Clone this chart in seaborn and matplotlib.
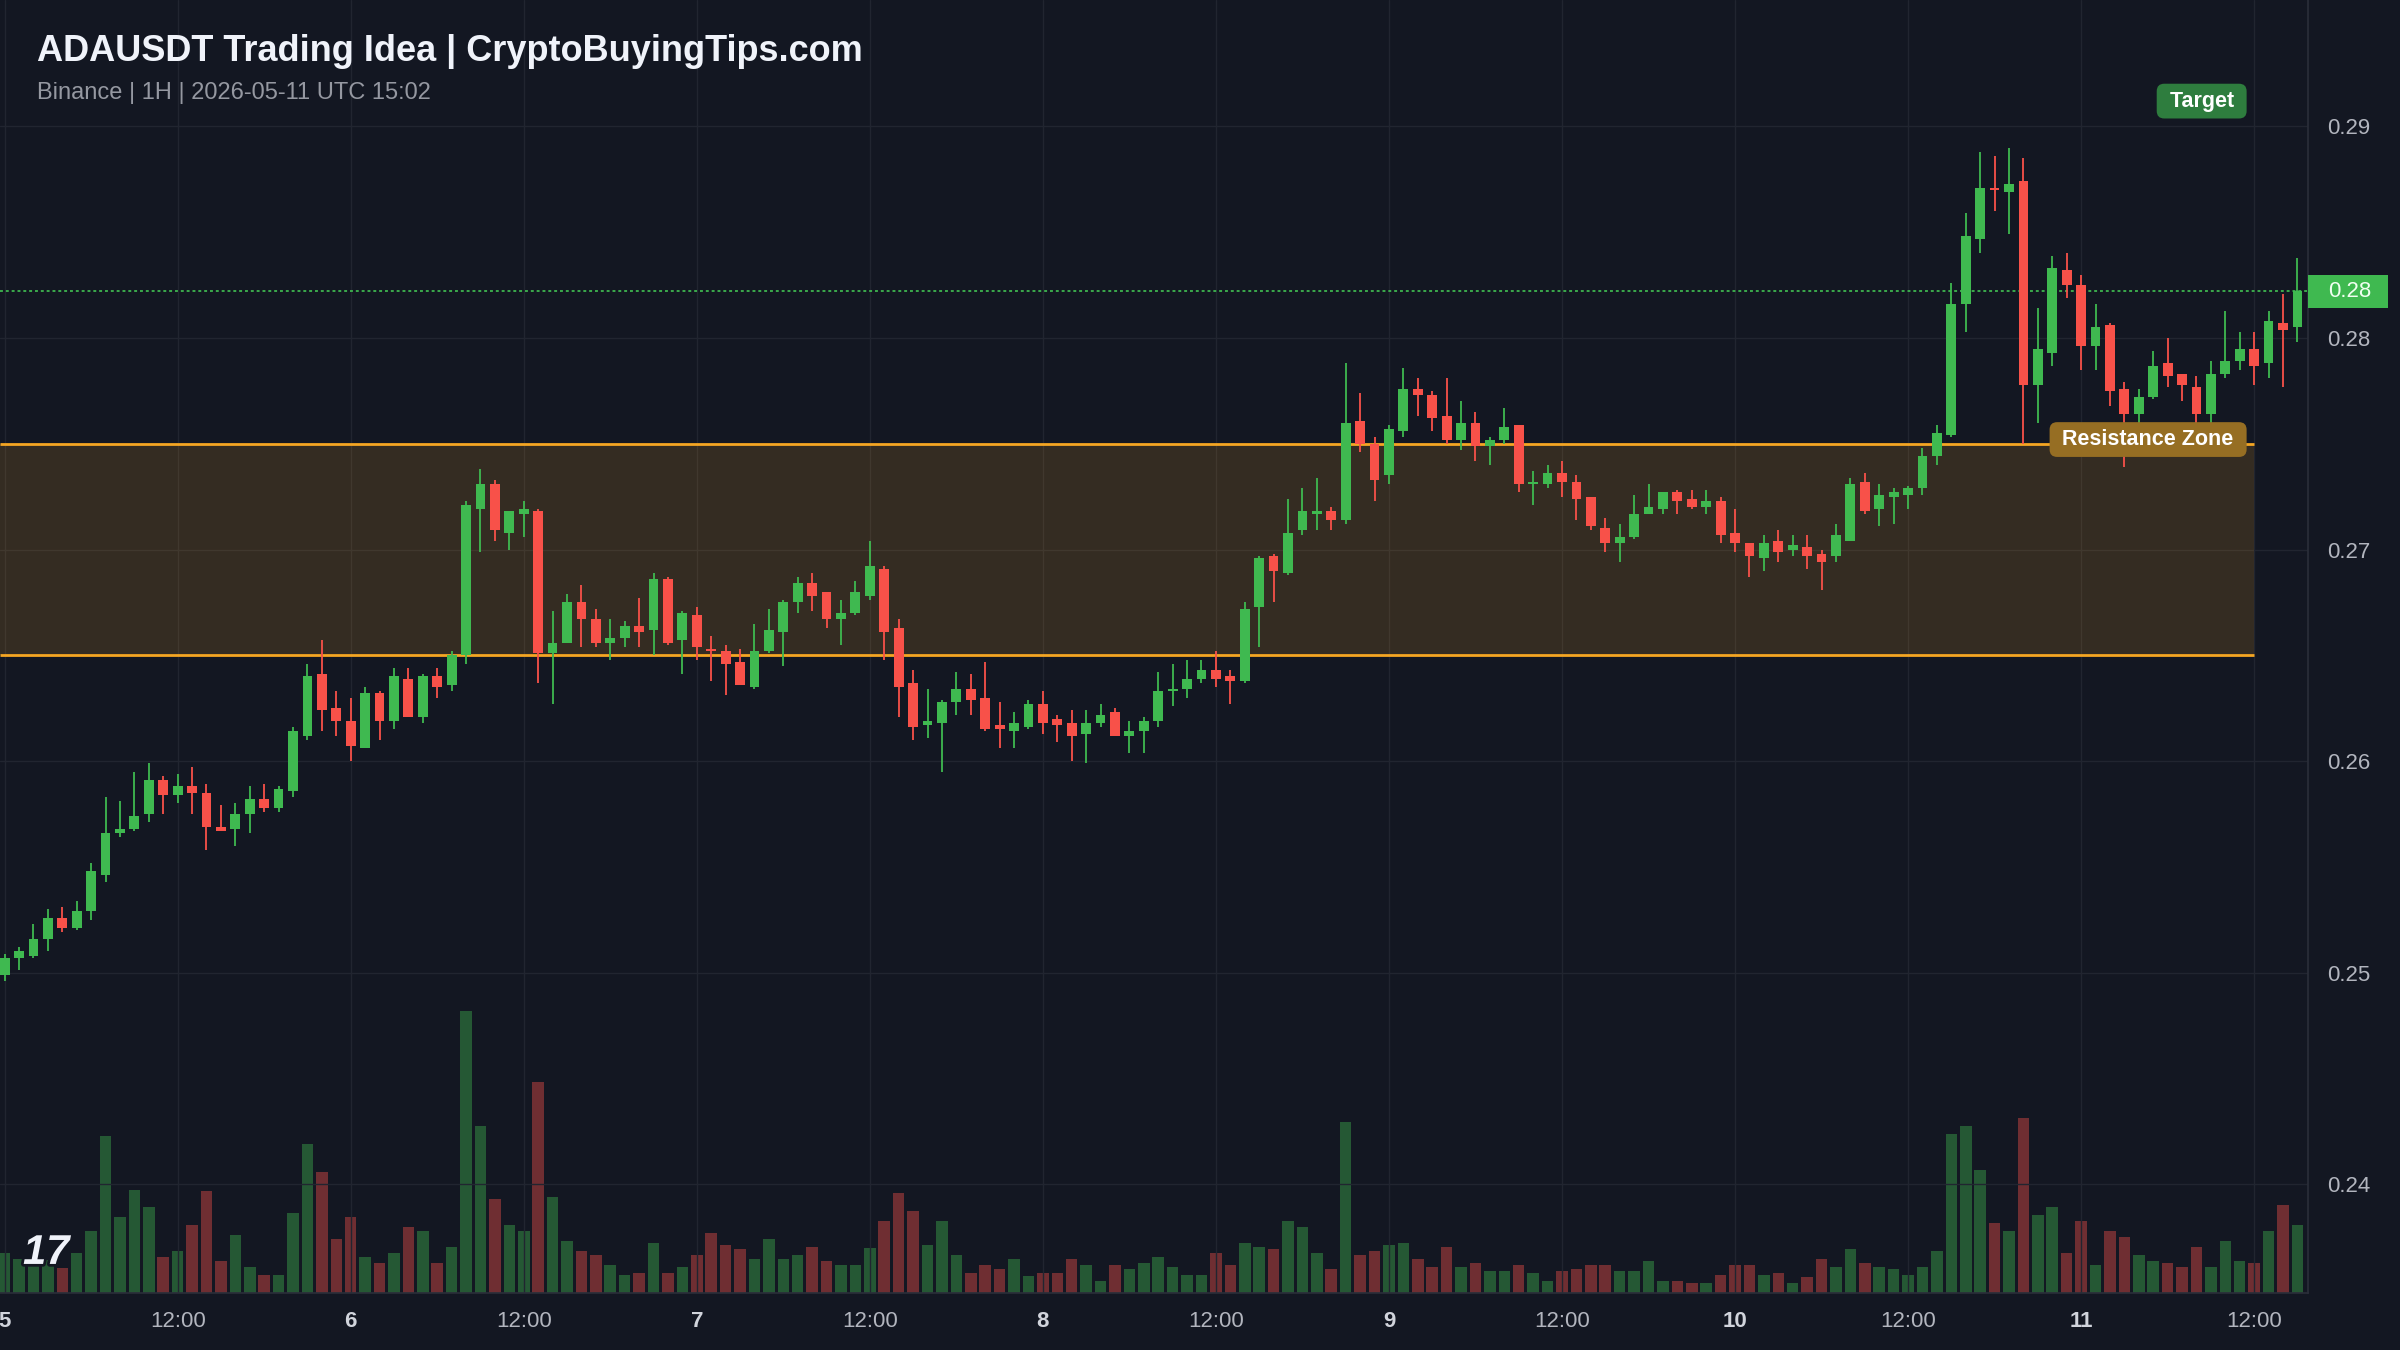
import numpy as np
import pandas as pd
import matplotlib as mpl
mpl.use("Agg")
import matplotlib.pyplot as plt
import matplotlib.patheffects as pe
from matplotlib.patches import FancyBboxPatch
from matplotlib.transforms import blended_transform_factory
import seaborn as sns

# hourly candles, 5th 00:00 -> 11th 15:00
opens = [
    .2499, .2507, .2508, .2516, .2526, .2521, .2529, .2546, .2566, .2568,
    .2575, .2591, .2584, .2588, .2585, .2569, .2568, .2575, .2582, .2578,
    .2586, .2612, .2641, .2625, .2619, .2606, .2632, .2619, .2639, .2621,
    .2640, .2636, .2650, .2719, .2731, .2708, .2717, .2718, .2651, .2656,
    .2675, .2667, .2656, .2658, .2664, .2662, .2686, .2657, .2669, .2653,
    .2652, .2647, .2635, .2652, .2661, .2675, .2684, .2680, .2667, .2670,
    .2678, .2691, .2663, .2637, .2617, .2618, .2628, .2634, .2630, .2617,
    .2614, .2616, .2627, .2620, .2618, .2613, .2618, .2623, .2612, .2614,
    .2619, .2633, .2634, .2639, .2643, .2640, .2638, .2673, .2697, .2689,
    .2709, .2717, .2718, .2714, .2761, .2750, .2735, .2756, .2776, .2773,
    .2763, .2752, .2760, .2749, .2752, .2759, .2731, .2731, .2736, .2732,
    .2725, .2710, .2703, .2706, .2717, .2719, .2727, .2724, .2720, .2723,
    .2708, .2703, .2696, .2704, .2700, .2701, .2698, .2697, .2704, .2732,
    .2719, .2725, .2726, .2729, .2744, .2754, .2816, .2847, .2871, .2869,
    .2874, .2778, .2793, .2832, .2825, .2796, .2806, .2776, .2764, .2772,
    .2788, .2783, .2777, .2764, .2783, .2789, .2795, .2788, .2807, .2805,
]
highs = [
    .2509, .2512, .2523, .2530, .2531, .2534, .2552, .2583, .2581, .2595,
    .2599, .2593, .2594, .2597, .2589, .2579, .2580, .2588, .2589, .2588,
    .2616, .2646, .2657, .2633, .2630, .2635, .2633, .2644, .2644, .2641,
    .2644, .2652, .2723, .2738, .2733, .2718, .2723, .2719, .2671, .2679,
    .2683, .2672, .2667, .2666, .2677, .2689, .2687, .2671, .2673, .2659,
    .2655, .2653, .2665, .2672, .2676, .2687, .2689, .2680, .2676, .2685,
    .2704, .2692, .2667, .2643, .2634, .2629, .2642, .2641, .2647, .2628,
    .2623, .2629, .2633, .2622, .2624, .2624, .2627, .2625, .2619, .2621,
    .2642, .2646, .2648, .2648, .2652, .2643, .2675, .2697, .2698, .2724,
    .2729, .2734, .2720, .2788, .2774, .2753, .2759, .2786, .2781, .2775,
    .2781, .2770, .2765, .2753, .2767, .2759, .2737, .2740, .2742, .2735,
    .2725, .2715, .2712, .2726, .2731, .2727, .2728, .2728, .2728, .2725,
    .2719, .2703, .2707, .2709, .2707, .2707, .2700, .2712, .2734, .2736,
    .2731, .2729, .2730, .2748, .2759, .2826, .2859, .2888, .2886, .2890,
    .2885, .2814, .2839, .2840, .2830, .2816, .2807, .2779, .2776, .2794,
    .2800, .2783, .2782, .2789, .2813, .2803, .2803, .2813, .2821, .2838,
]
lows = [
    .2496, .2501, .2507, .2510, .2519, .2520, .2525, .2543, .2564, .2567,
    .2571, .2575, .2580, .2575, .2558, .2567, .2560, .2566, .2576, .2576,
    .2583, .2610, .2614, .2612, .2600, .2606, .2610, .2615, .2621, .2618,
    .2630, .2633, .2646, .2699, .2704, .2700, .2706, .2637, .2627, .2656,
    .2654, .2654, .2648, .2654, .2654, .2650, .2655, .2641, .2648, .2638,
    .2631, .2636, .2634, .2651, .2645, .2670, .2671, .2663, .2655, .2669,
    .2676, .2648, .2621, .2610, .2611, .2595, .2622, .2622, .2614, .2606,
    .2606, .2615, .2613, .2609, .2600, .2599, .2616, .2612, .2604, .2604,
    .2616, .2626, .2630, .2637, .2635, .2627, .2637, .2654, .2675, .2688,
    .2707, .2709, .2709, .2712, .2746, .2723, .2731, .2753, .2763, .2756,
    .2750, .2747, .2742, .2740, .2750, .2727, .2721, .2729, .2725, .2714,
    .2709, .2699, .2694, .2705, .2717, .2717, .2717, .2719, .2717, .2703,
    .2699, .2687, .2690, .2694, .2697, .2691, .2681, .2694, .2704, .2717,
    .2711, .2712, .2719, .2726, .2740, .2753, .2803, .2840, .2860, .2849,
    .2750, .2760, .2787, .2819, .2785, .2785, .2768, .2739, .2760, .2771,
    .2777, .2770, .2760, .2760, .2781, .2785, .2778, .2781, .2777, .2798,
]
closes = [
    .2507, .2510, .2516, .2526, .2521, .2529, .2548, .2566, .2568, .2574,
    .2591, .2584, .2588, .2585, .2569, .2567, .2575, .2582, .2578, .2587,
    .2614, .2640, .2624, .2619, .2607, .2632, .2619, .2640, .2621, .2640,
    .2635, .2650, .2721, .2731, .2709, .2718, .2719, .2651, .2656, .2675,
    .2667, .2656, .2658, .2664, .2661, .2686, .2656, .2670, .2654, .2652,
    .2646, .2636, .2652, .2662, .2675, .2684, .2678, .2667, .2670, .2680,
    .2692, .2661, .2635, .2616, .2619, .2628, .2634, .2629, .2615, .2615,
    .2618, .2627, .2618, .2617, .2612, .2618, .2622, .2612, .2614, .2619,
    .2633, .2634, .2639, .2643, .2639, .2638, .2672, .2696, .2690, .2708,
    .2718, .2718, .2714, .2760, .2750, .2733, .2757, .2776, .2773, .2762,
    .2752, .2760, .2749, .2752, .2758, .2731, .2732, .2736, .2732, .2724,
    .2711, .2703, .2706, .2717, .2720, .2727, .2723, .2720, .2723, .2707,
    .2703, .2697, .2703, .2699, .2702, .2697, .2694, .2707, .2731, .2718,
    .2726, .2727, .2729, .2744, .2755, .2816, .2848, .2871, .2870, .2873,
    .2778, .2795, .2833, .2825, .2796, .2805, .2775, .2764, .2772, .2787,
    .2782, .2778, .2764, .2783, .2789, .2795, .2787, .2808, .2804, .2822,
]
volumes = [
    120, 104, 110, 100, 75, 120, 187, 475, 229, 312,
    259, 109, 127, 205, 307, 97, 175, 79, 55, 55,
    241, 451, 367, 163, 229, 109, 91, 121, 199, 187,
    91, 139, 852, 504, 283, 205, 187, 637, 289, 157,
    127, 115, 85, 55, 61, 151, 61, 79, 115, 181,
    145, 133, 103, 163, 103, 115, 139, 97, 85, 85,
    135, 217, 302, 247, 145, 217, 115, 62, 85, 74,
    104, 50, 62, 62, 104, 85, 37, 85, 74, 92,
    109, 80, 55, 55, 121, 85, 151, 139, 133, 217,
    199, 121, 74, 517, 115, 127, 145, 151, 104, 80,
    139, 80, 92, 67, 67, 85, 62, 37, 67, 74,
    85, 85, 67, 67, 97, 37, 37, 31, 31, 55,
    85, 85, 55, 61, 31, 49, 103, 79, 133, 91,
    79, 73, 55, 79, 127, 481, 505, 373, 211, 187,
    529, 235, 259, 121, 217, 85, 187, 169, 115, 97,
    91, 79, 139, 79, 157, 97, 91, 187, 265, 205,
]

tick_hours = [0, 12, 24, 36, 48, 60, 72, 84, 96, 108, 120, 132, 144, 156]
tick_labels = ["5", "12:00", "6", "12:00", "7", "12:00", "8", "12:00",
               "9", "12:00", "10", "12:00", "11", "12:00"]
price_ticks = [0.24, 0.25, 0.26, 0.27, 0.28, 0.29]

zone_low, zone_high = 0.265, 0.275
zone_end = 156
target = 0.2912

BG = "#131722"
GRID = "#212530"
UP = "#3fb950"
DOWN = "#f85149"
VOL_UP = "#255834"
VOL_DOWN = "#6f2e32"
ZONE = "#f5a623"
TICK = "#b2b5be"

sns.set_theme(style="dark", rc={
    "figure.facecolor": BG, "axes.facecolor": BG, "savefig.facecolor": BG,
    "axes.edgecolor": "#2a2e39", "text.color": "#d1d4dc",
})
plt.rcParams["font.family"] = ["Liberation Sans", "DejaVu Sans"]

o = np.array(opens)
h = np.array(highs)
l = np.array(lows)
c = np.array(closes)
hours = np.arange(len(o))
up = c >= o

df = pd.DataFrame({"hour": hours, "volume": volumes,
                   "dir": np.where(up, "up", "down")})

fig = plt.figure(figsize=(24, 13.5), dpi=100)
ax = fig.add_axes([0, 0.0422, 0.9617, 0.9578])
ax2 = ax.twinx()

# volume on a hidden twin axis, squashed to the bottom
sns.barplot(data=df, x="hour", y="volume", hue="dir",
            palette={"up": VOL_UP, "down": VOL_DOWN}, native_scale=True,
            dodge=False, width=0.8, errorbar=None, saturation=1,
            legend=False, linewidth=0, ax=ax2)
ax2.set_ylim(0, 3906)
ax2.set_yticks([])
ax2.set_ylabel("")
ax2.set_xlabel("")
ax2.grid(False)
for s in ax2.spines.values():
    s.set_visible(False)

ax.set_zorder(ax2.get_zorder() + 1)
ax.patch.set_visible(False)

# candles
colors = np.where(up, UP, DOWN)
ax.vlines(hours, l, h, colors=colors, linewidth=1.3, zorder=3)
body = np.maximum(np.abs(c - o), 0.00007)
ax.bar(hours, body, bottom=np.minimum(o, c), width=0.68, color=colors,
       linewidth=0, zorder=4)

ax.set_xlim(-0.32, 159.74)
ax.set_ylim(0.23485, 0.29598)

# resistance zone
x0 = ax.get_xlim()[0]
ax.fill_between([x0, zone_end], zone_low, zone_high, color=ZONE, alpha=0.15,
                linewidth=0, zorder=1)
ax.hlines([zone_low, zone_high], x0, zone_end, color=ZONE, linewidth=2, zorder=2)
ax.text(zone_end - 1, zone_high + 0.0002, " Resistance Zone ", ha="right",
        va="center", fontsize=15.5, fontweight="bold", color="white", zorder=6,
        bbox=dict(boxstyle="round,pad=0.32,rounding_size=0.35", fc="#966e23", ec="none"))
ax.text(zone_end - 1, target, " Target ", ha="right", va="center", fontsize=15.5,
        fontweight="bold", color="white", zorder=6,
        bbox=dict(boxstyle="round,pad=0.32,rounding_size=0.35", fc="#2e7d3e", ec="none"))

# last price line and tag
last = c[-1]
ax.axhline(last, color=UP, linestyle=(0, (1.5, 1.5)), linewidth=1.4, alpha=0.9, zorder=2)
trans = blended_transform_factory(ax.transAxes, ax.transData)
ax.add_patch(FancyBboxPatch((1.0, last - 0.00078), 0.0347, 0.00156,
                            boxstyle="square,pad=0", transform=trans,
                            fc=UP, ec="none", clip_on=False, zorder=6))
ax.text(1.0087, last, f"{last:.2f}", transform=trans, ha="left", va="center",
        fontsize=16, color="#f0fff0", zorder=7, clip_on=False)

# axes styling
ax.yaxis.tick_right()
ax.set_yticks(price_ticks)
ax.set_yticklabels([f"{p:.2f}" for p in price_ticks])
ax.set_xticks(tick_hours)
ax.set_xticklabels(tick_labels)
ax.tick_params(axis="y", length=0, pad=14, labelsize=16, labelcolor=TICK)
ax.tick_params(axis="x", length=0, pad=13, labelsize=16, labelcolor=TICK)
for lab in ax.get_xticklabels():
    if ":" not in lab.get_text():
        lab.set_fontweight("bold")
        lab.set_color("#d1d4dc")
ax.grid(True, color=GRID, linewidth=1)
ax.set_axisbelow(True)
ax.spines["top"].set_visible(False)
ax.spines["left"].set_visible(False)
ax.spines["right"].set_color("#2a2e39")
ax.spines["bottom"].set_color("#2a2e39")
ax.set_xlabel("")
ax.set_ylabel("")

fig.text(0.0153, 0.9615, "ADAUSDT Trading Idea | CryptoBuyingTips.com",
         fontsize=26, fontweight="bold", color="#f0f3fa", va="center")
fig.text(0.0153, 0.9312, "Binance | 1H | 2026-05-11 UTC 15:02",
         fontsize=17, color="#9598a1", va="center")
fig.text(0.0096, 0.0719, "17", fontsize=30, fontweight="heavy", fontstyle="italic",
         color="#f0f3fa", va="center",
         path_effects=[pe.withStroke(linewidth=4, foreground="#131722")])

fig.savefig("out.png", dpi=100)
plt.close(fig)
